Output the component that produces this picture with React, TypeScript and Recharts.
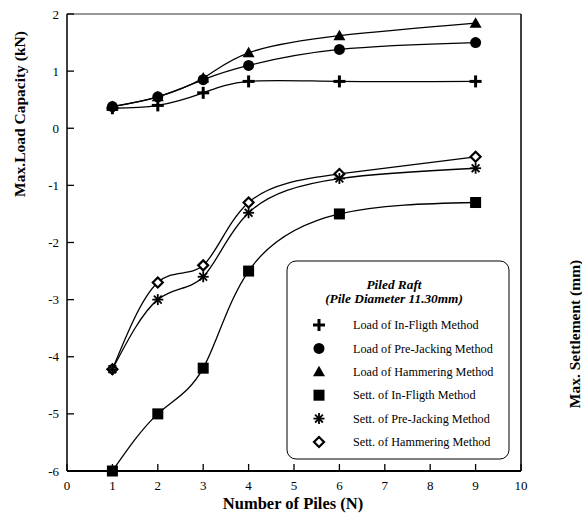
import React from "react";
import { LineChart, Line, XAxis, YAxis, ReferenceLine } from "recharts";

const piles = [1, 2, 3, 4, 6, 9];
const loadInFligth = [0.35, 0.4, 0.62, 0.82, 0.82, 0.82];
const loadPreJacking = [0.38, 0.55, 0.85, 1.1, 1.38, 1.5];
const loadHammering = [0.38, 0.55, 0.88, 1.32, 1.62, 1.84];
const settInFligth = [-6, -5, -4.2, -2.5, -1.5, -1.3];
const settPreJacking = [-4.22, -3.0, -2.6, -1.48, -0.88, -0.7];
const settHammering = [-4.22, -2.7, -2.4, -1.3, -0.8, -0.5];
const xTicks = [0, 1, 2, 3, 4, 5, 6, 7, 8, 9, 10];
const yTicks = [-6, -5, -4, -3, -2, -1, 0, 1, 2];

const data = piles.map((n, i) => ({
  n,
  loadIF: loadInFligth[i],
  loadPJ: loadPreJacking[i],
  loadH: loadHammering[i],
  settIF: settInFligth[i],
  settPJ: settPreJacking[i],
  settH: settHammering[i],
}));

const FONT = "'Liberation Serif', 'DejaVu Serif', serif";

type Kind = "plus" | "circle" | "triangle" | "square" | "star" | "diamond";

function Symbol({ kind, cx, cy }: { kind: Kind; cx: number; cy: number }) {
  if (kind === "plus") {
    return (
      <g stroke="#000" strokeWidth={3}>
        <line x1={cx - 6} y1={cy} x2={cx + 6} y2={cy} />
        <line x1={cx} y1={cy - 6} x2={cx} y2={cy + 6} />
      </g>
    );
  }
  if (kind === "circle") return <circle cx={cx} cy={cy} r={5.5} fill="#000" />;
  if (kind === "triangle")
    return <polygon points={`${cx},${cy - 6} ${cx + 6},${cy + 4.5} ${cx - 6},${cy + 4.5}`} fill="#000" />;
  if (kind === "square") return <rect x={cx - 5.5} y={cy - 5.5} width={11} height={11} fill="#000" />;
  if (kind === "star") {
    const r = 5.5;
    const d = r * 0.7071;
    return (
      <g stroke="#000" strokeWidth={1.8}>
        <line x1={cx - r} y1={cy} x2={cx + r} y2={cy} />
        <line x1={cx} y1={cy - r} x2={cx} y2={cy + r} />
        <line x1={cx - d} y1={cy - d} x2={cx + d} y2={cy + d} />
        <line x1={cx - d} y1={cy + d} x2={cx + d} y2={cy - d} />
      </g>
    );
  }
  return (
    <polygon
      points={`${cx},${cy - 5} ${cx + 5},${cy} ${cx},${cy + 5} ${cx - 5},${cy}`}
      fill="#fff"
      stroke="#000"
      strokeWidth={2.2}
    />
  );
}

const dotOf = (kind: Kind) => (p: any) => <Symbol key={`${kind}-${p.index}`} kind={kind} cx={p.cx} cy={p.cy} />;

const LeftTick = (p: any) => (
  <g>
    <line x1={p.x + 8} y1={p.y} x2={p.x + 15} y2={p.y} stroke="#000" strokeWidth={1.3} />
    <text x={p.x} y={p.y} dy="0.35em" textAnchor="end" fontSize={13} fontFamily={FONT} fill="#000">
      {p.payload.value}
    </text>
  </g>
);

const RightTick = (p: any) => (
  <g>
    <line x1={p.x - 8} y1={p.y} x2={p.x - 15} y2={p.y} stroke="#000" strokeWidth={1.3} />
    <text x={p.x} y={p.y} dy="0.35em" textAnchor="start" fontSize={13} fontFamily={FONT} fill="#000">
      {p.payload.value}
    </text>
  </g>
);

const BottomTick = (p: any) => (
  <g>
    <line x1={p.x} y1={p.y - 8} x2={p.x} y2={p.y - 15} stroke="#000" strokeWidth={1.3} />
    <text x={p.x} y={p.y} dy="0.85em" textAnchor="middle" fontSize={13} fontFamily={FONT} fill="#000">
      {p.payload.value}
    </text>
  </g>
);

const legendItems: { kind: Kind; label: string }[] = [
  { kind: "plus", label: "Load of In-Fligth Method" },
  { kind: "circle", label: "Load of Pre-Jacking Method" },
  { kind: "triangle", label: "Load of Hammering Method" },
  { kind: "square", label: "Sett. of In-Fligth Method" },
  { kind: "star", label: "Sett. of Pre-Jacking Method" },
  { kind: "diamond", label: "Sett. of Hammering Method" },
];

// diamond series drawn before the star series so the star sits on top at x = 1
const series: { key: string; kind: Kind }[] = [
  { key: "loadIF", kind: "plus" },
  { key: "loadPJ", kind: "circle" },
  { key: "loadH", kind: "triangle" },
  { key: "settIF", kind: "square" },
  { key: "settH", kind: "diamond" },
  { key: "settPJ", kind: "star" },
];

export default function App() {
  return (
    <div style={{ position: "absolute", left: 0, top: 0, width: 582, height: 515, background: "#fff" }}>
      <LineChart width={582} height={515} data={data} margin={{ top: 14, right: 21, bottom: 14, left: 27 }}>
        <XAxis
          dataKey="n"
          type="number"
          domain={[0, 10]}
          ticks={xTicks}
          height={30}
          tickLine={false}
          tick={BottomTick}
          axisLine={{ stroke: "#000", strokeWidth: 2 }}
        />
        <YAxis
          yAxisId="left"
          domain={[-6, 2]}
          ticks={yTicks}
          width={40}
          tickLine={false}
          tick={LeftTick}
          axisLine={{ stroke: "#000", strokeWidth: 1.5 }}
        />
        <YAxis
          yAxisId="right"
          orientation="right"
          domain={[-6, 2]}
          ticks={yTicks}
          width={40}
          tickLine={false}
          tick={RightTick}
          axisLine={{ stroke: "#000", strokeWidth: 1.5 }}
        />
        <ReferenceLine yAxisId="left" y={2} stroke="#777" strokeWidth={1.5} />
        {series.map((s) => (
          <Line
            key={s.key}
            yAxisId="left"
            type="natural"
            dataKey={s.key}
            stroke="#000"
            strokeWidth={1.3}
            dot={dotOf(s.kind)}
            activeDot={false}
            isAnimationActive={false}
          />
        ))}
      </LineChart>
      <svg
        width={582}
        height={515}
        style={{ position: "absolute", left: 0, top: 0, pointerEvents: "none" }}
        fontFamily={FONT}
      >
        <text
          transform="translate(25,114) rotate(-90)"
          textAnchor="middle"
          fontSize={15.5}
          fontWeight="bold"
        >
          Max.Load Capacity (kN)
        </text>
        <text
          transform="translate(580,334) rotate(-90)"
          textAnchor="middle"
          fontSize={15.5}
          fontWeight="bold"
        >
          Max. Settlement (mm)
        </text>
        <text x={293} y={509} textAnchor="middle" fontSize={16.5} fontWeight="bold">
          Number of Piles (N)
        </text>
        <rect x={287} y={261} width={222} height={198} rx={9} fill="#fff" stroke="#000" strokeWidth={1} />
        <text x={394} y={289} textAnchor="middle" fontSize={13.3} fontWeight="bold" fontStyle="italic">
          Piled Raft
        </text>
        <text x={394} y={303} textAnchor="middle" fontSize={13.3} fontWeight="bold" fontStyle="italic">
          (Pile Diameter 11.30mm)
        </text>
        {legendItems.map((it, i) => {
          const cy = 325 + i * 23.4;
          return (
            <g key={it.label}>
              <Symbol kind={it.kind} cx={319} cy={cy} />
              <text x={353} y={cy} dy="0.35em" fontSize={12.2}>
                {it.label}
              </text>
            </g>
          );
        })}
      </svg>
    </div>
  );
}
